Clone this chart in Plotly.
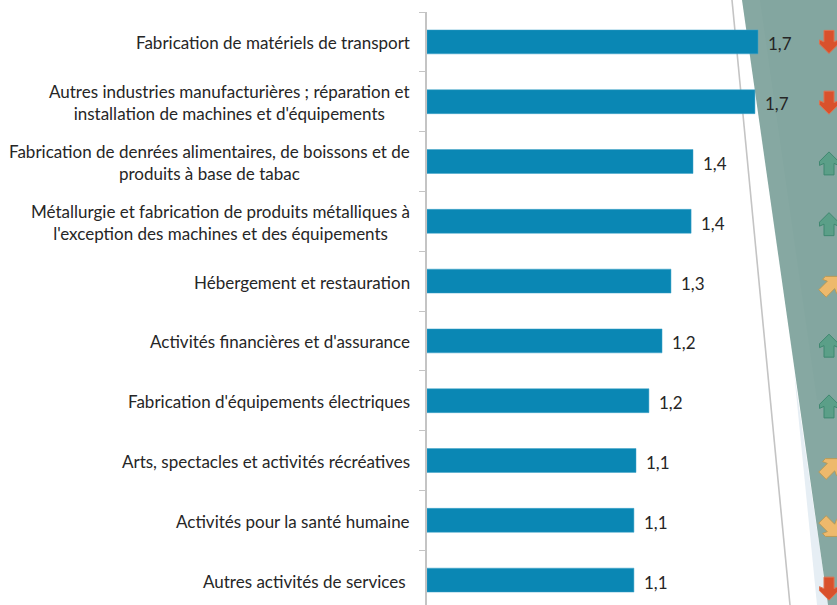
import math
import plotly.graph_objects as go

categories = [
    "Fabrication de matériels de transport",
    "Autres industries manufacturières ; réparation et<br>installation de machines et d'équipements",
    "Fabrication de denrées alimentaires, de boissons et de<br>produits à base de tabac",
    "Métallurgie et fabrication de produits métalliques à<br>l'exception des machines et des équipements",
    "Hébergement et restauration",
    "Activités financières et d'assurance",
    "Fabrication d'équipements électriques",
    "Arts, spectacles et activités récréatives",
    "Activités pour la santé humaine",
    "Autres activités de services&nbsp;",
]
values = [1.742, 1.726, 1.40, 1.39, 1.284, 1.237, 1.168, 1.10, 1.089, 1.089]
trends = ["down", "down", "up", "up", "ne", "up", "up", "ne", "se", "down"]

W, H, L, T = 837, 605, 427, 12
px_per_unit = 190
pw, ph = W - L, H - T
px_per_cat = 59.8
arrow_drift = 0.95


def fx(x):
    return (x - L) / pw


def fy(y):
    return 1 - (y - T) / ph


def poly(points):
    return "M " + " L ".join(f"{fx(x):.5f},{fy(y):.5f}" for x, y in points) + " Z"


ARROW = [(0, 11.5), (9.5, 2), (9.5, -2), (5, 0), (5, -11.5), (-5, -11.5), (-5, 0), (-9.5, -2), (-9.5, 2)]
ANGLES = {"up": 0, "down": 180, "ne": -45, "se": -135}
STYLES = {
    "up": ("#5b9f88", "#3f8870"),
    "down": ("#d9512c", "#e0714f"),
    "ne": ("#eeb96c", "#b89a58"),
    "se": ("#eeb96c", "#b89a58"),
}


def arrow_path(kind, dy):
    a = math.radians(ANGLES[kind])
    diag = kind in ("ne", "se")
    s = 1.05 if diag else 1.0
    dx = 2 if diag else 0
    pts = [(s * (x * math.cos(a) - y * math.sin(a)) + dx, s * (x * math.sin(a) + y * math.cos(a)) - dy) for x, y in ARROW]
    return "M " + " L ".join(f"{x:.2f},{y:.2f}" for x, y in pts) + " Z"


shapes = [
    dict(type="line", xref="paper", yref="paper", x0=fx(732), y0=fy(0), x1=fx(790), y1=fy(605),
         line=dict(color="#c4c4c4", width=1.6), layer="below"),
    dict(type="path", xref="paper", yref="paper", layer="below", line=dict(width=0), fillcolor="#e6eef4",
         path=poly([(794, 372), (828, 605), (817, 605)])),
    dict(type="path", xref="paper", yref="paper", layer="below", line=dict(width=0), fillcolor="#86a8a2",
         path=poly([(742, 0), (837, 0), (837, 605), (828, 605)])),
    dict(type="path", xref="paper", yref="paper", layer="below", line=dict(width=0), fillcolor="#83a6a0",
         path=poly([(760, 0), (837, 0), (837, 400), (817, 400)])),
]
for i, (cat, tr) in enumerate(zip(categories, trends)):
    fill, edge = STYLES[tr]
    shapes.append(dict(type="path", xsizemode="pixel", ysizemode="pixel", xref="paper", yref="y",
                       xanchor=fx(829), yanchor=cat, path=arrow_path(tr, i * arrow_drift), fillcolor=fill,
                       line=dict(color=edge, width=1), layer="above"))

annotations = []
for cat, v in zip(categories, values):
    annotations.append(dict(x=0, y=cat, xref="x", yref="y", text=cat, showarrow=False, xanchor="right",
                            align="center", xshift=-15, yshift=-1, font=dict(size=17, color="#262626")))
    annotations.append(dict(x=v, y=cat, xref="x", yref="y", text=f"{v:.1f}".replace(".", ","), showarrow=False,
                            xanchor="left", xshift=8, yshift=-2, font=dict(size=17, color="#262626")))

fig = go.Figure(go.Bar(
    x=values, y=categories, orientation="h",
    marker=dict(color="#0a87b4", line=dict(color="#3fa3c9", width=0.5)),
    hoverinfo="skip",
))
fig.update_layout(
    width=W, height=H, autosize=False,
    margin=dict(l=L, r=0, t=T, b=0, pad=0),
    paper_bgcolor="white", plot_bgcolor="rgba(0,0,0,0)",
    font=dict(family="Lato, Carlito, sans-serif", size=17, color="#262626"),
    bargap=0.6, showlegend=False,
    shapes=shapes, annotations=annotations,
    xaxis=dict(range=[0, pw / px_per_unit], visible=False, fixedrange=True),
    yaxis=dict(type="category", categoryorder="array", categoryarray=categories,
               range=[ph / px_per_cat - 0.5, -0.5], tickson="boundaries", ticks="outside", ticklen=6,
               tickcolor="#c4c4c4", tickwidth=1, showticklabels=False, showgrid=False,
               showline=True, linecolor="#c4c4c4", linewidth=1.5, zeroline=False, fixedrange=True),
)
fig.write_html("out.html", config={"displayModeBar": False},
               post_script="document.body.style.margin='0';document.body.style.overflow='hidden';")
